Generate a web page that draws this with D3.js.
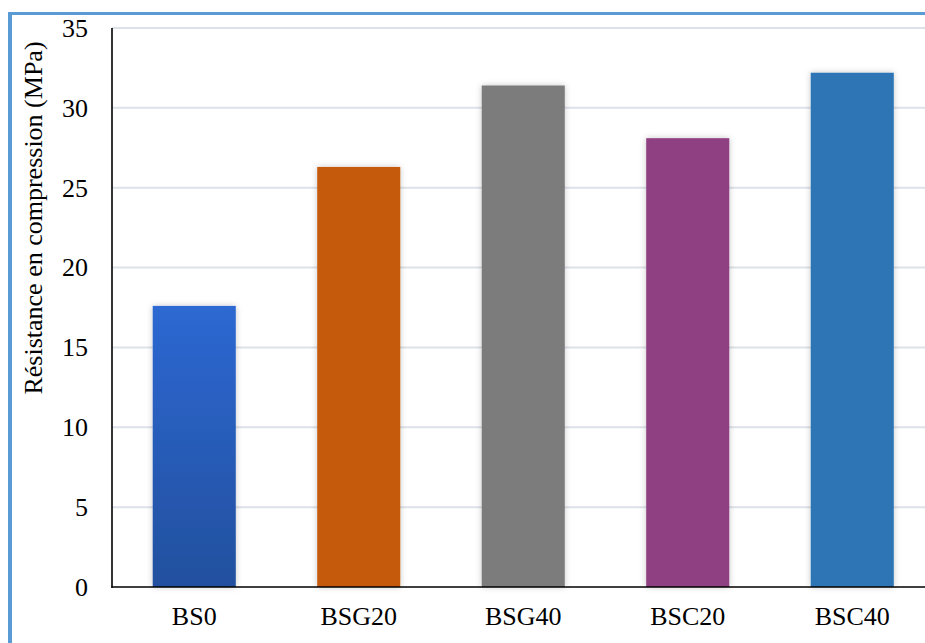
<!DOCTYPE html>
<html>
<head>
<meta charset="utf-8">
<script src="https://cdn.jsdelivr.net/npm/d3@7"></script>
<style>
  html, body { margin: 0; padding: 0; background: #fff; }
  svg { display: block; }
</style>
</head>
<body>
<div id="chart"></div>
<script>
// Compressive strength per concrete mix
const categories = ["BS0", "BSG20", "BSG40", "BSC20", "BSC40"];
const strengths = [17.6, 26.3, 31.4, 28.1, 32.2];
const barColors = ["url(#bs0Grad)", "#c55a11", "#7b7b7b", "#8e4083", "#2e75b6"];
const yTicks = [0, 5, 10, 15, 20, 25, 30, 35];
const yTitle = "Résistance en compression (MPa)";

const W = 925, H = 643;
const plotLeft = 112, plotTop = 28, plotBottom = 587, plotRight = 934.5;

const svg = d3.select("#chart").append("svg")
  .attr("width", W).attr("height", H);

const defs = svg.append("defs");
const grad = defs.append("linearGradient").attr("id", "bs0Grad")
  .attr("x1", 0).attr("y1", 0).attr("x2", 0).attr("y2", 1);
grad.append("stop").attr("offset", "0%").attr("stop-color", "#2d68d2");
grad.append("stop").attr("offset", "100%").attr("stop-color", "#22509e");

const shadow = defs.append("filter").attr("id", "barShadow")
  .attr("x", "-20%").attr("y", "-20%").attr("width", "140%").attr("height", "140%");
shadow.append("feDropShadow").attr("dx", 0).attr("dy", 0)
  .attr("stdDeviation", 3).attr("flood-color", "#000").attr("flood-opacity", 0.22);

// Outer frame (left and top edges)
svg.append("line").attr("x1", 8).attr("x2", W).attr("y1", 13.5).attr("y2", 13.5)
  .attr("stroke", "#5b9bd5").attr("stroke-width", 3);
svg.append("line").attr("x1", 10).attr("x2", 10).attr("y1", 12).attr("y2", H)
  .attr("stroke", "#5b9bd5").attr("stroke-width", 4);

const x = d3.scaleBand().domain(categories).range([plotLeft, plotRight])
  .paddingInner(0.495).paddingOuter(0.2475);
const y = d3.scaleLinear().domain([0, 35]).range([plotBottom, plotTop]);

// Horizontal gridlines
svg.append("g").selectAll("line").data(yTicks.filter(d => d > 0)).join("line")
  .attr("x1", plotLeft).attr("x2", W)
  .attr("y1", d => y(d)).attr("y2", d => y(d))
  .attr("stroke", "#dde1e8").attr("stroke-width", 2);

// Bars
svg.append("g").selectAll("rect").data(categories).join("rect")
  .attr("x", d => x(d))
  .attr("width", x.bandwidth())
  .attr("y", (d, i) => y(strengths[i]))
  .attr("height", (d, i) => plotBottom - y(strengths[i]))
  .attr("fill", (d, i) => barColors[i])
  .attr("filter", "url(#barShadow)");

// Y axis
const yAxis = svg.append("g").attr("transform", `translate(${plotLeft},0)`)
  .call(d3.axisLeft(y).tickValues(yTicks).tickSize(0).tickPadding(24));
yAxis.select(".domain").remove();
yAxis.selectAll("text")
  .attr("font-family", "'Liberation Serif', 'Times New Roman', serif")
  .attr("font-size", 26).attr("fill", "#000");
svg.append("line").attr("x1", plotLeft).attr("x2", plotLeft)
  .attr("y1", plotTop).attr("y2", plotBottom + 0.8)
  .attr("stroke", "#000").attr("stroke-width", 1.6);

// X axis
const xAxis = svg.append("g").attr("transform", `translate(0,${plotBottom})`)
  .call(d3.axisBottom(x).tickSize(0).tickPadding(20));
xAxis.select(".domain").remove();
xAxis.selectAll("text")
  .attr("font-family", "'Liberation Serif', 'Times New Roman', serif")
  .attr("font-size", 26).attr("fill", "#000");
svg.append("line").attr("x1", plotLeft - 0.8).attr("x2", W)
  .attr("y1", plotBottom).attr("y2", plotBottom)
  .attr("stroke", "#000").attr("stroke-width", 1.6);

// Y axis title
svg.append("text")
  .attr("transform", `translate(42,218) rotate(-90)`)
  .attr("text-anchor", "middle")
  .attr("font-family", "'Liberation Serif', 'Times New Roman', serif")
  .attr("font-size", 26).attr("fill", "#000")
  .text(yTitle);
</script>
</body>
</html>
